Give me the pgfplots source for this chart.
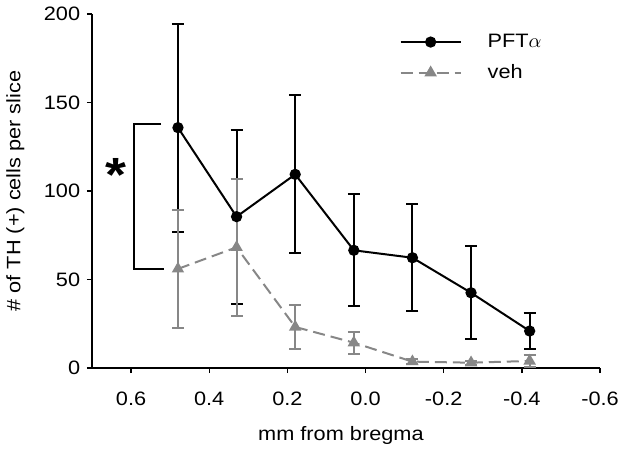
\documentclass[border=0pt]{standalone}
\usepackage{pgfplots}
\pgfplotsset{compat=1.18}
\usepackage{fontspec}
\setmainfont{Liberation Sans}[FakeStretch=1.12]
\definecolor{vehgray}{RGB}{135,135,135}
\begin{document}
\fontsize{9.7}{11.6}\selectfont
\begin{tikzpicture}
\useasboundingbox (-46pt,-41.35pt) rectangle (266pt,184pt);
\begin{axis}[
  scale only axis, width=254pt, height=177pt,
  x dir=reverse, xmin=-0.6, xmax=0.7, ymin=0, ymax=200,
  axis x line*=bottom, axis y line*=left,
  axis line style={line width=0.8pt},
  xtick={0.6,0.4,0.2,0,-0.2,-0.4,-0.6},
  xticklabels={0.6,0.4,0.2,0.0,-0.2,-0.4,-0.6},
  ytick={0,50,100,150,200},
  tick align=outside, major tick length=2.5pt,
  tick style={black, line width=0.7pt},
  /pgf/number format/assume math mode=true,
  tick label style={font=\fontsize{9.7}{11.6}\selectfont},
  xticklabel style={yshift=-6pt},
  xlabel={mm from bregma},
  ylabel={\# of TH (+) cells per slice},
  xlabel style={at={(axis description cs:0.49,-0.19)}, anchor=center},
  ylabel style={at={(axis description cs:-0.151,0.5)}, anchor=center},
  legend style={draw=none, fill=none, at={(axis description cs:0.593,0.877)}, anchor=west,
    row sep=3pt, column sep=11pt, font=\fontsize{9.7}{11.6}\selectfont},
  legend cell align=left,
  legend image code/.code={\draw[mark repeat=2,mark phase=2,#1] plot coordinates {(0pt,0pt) (15pt,0pt) (30pt,0pt)};},
  clip=false,
]
\addplot[black, line width=1pt, mark=*, mark size=2.3pt,
  error bars/.cd, y dir=both, y explicit,
  error bar style={line width=1pt, black},
  error mark options={rotate=90, mark size=3pt, line width=1pt, black}]
  coordinates {
  (0.48,135.8) +- (0,58.7)
  (0.33,85.5) +- (0,49.2)
  (0.18,109.4) +- (0,44.6)
  (0.03,66.5) +- (0,31.6)
  (-0.12,62.3) +- (0,30.3)
  (-0.27,42.5) +- (0,26.2)
  (-0.42,20.9) +- (0,10)
};
\addlegendentry{PFT$\alpha$}
\addplot[vehgray, line width=1pt, dash pattern=on 6pt off 3pt, mark=triangle*, mark size=2.6pt,
  mark options={solid},
  error bars/.cd, y dir=both, y explicit,
  error bar style={line width=1pt, vehgray, solid},
  error mark options={rotate=90, mark size=3pt, line width=1pt, vehgray, solid}]
  coordinates {
  (0.48,56) +- (0,33.2)
  (0.33,68.2) +- (0,38.6)
  (0.18,23.2) +- (0,12.3)
  (0.03,14.3) +- (0,6.3)
  (-0.12,3.6) +- (0,1.5)
  (-0.27,3.0) +- (0,1.2)
  (-0.42,4.0) +- (0,3.3)
};
\addlegendentry{veh}
\draw[line width=1pt] (axis cs:0.523,137.6) -- (axis cs:0.592,137.6) -- (axis cs:0.592,56) -- (axis cs:0.515,56);
\node[font=\fontsize{24}{24}\bfseries, yshift=-5pt] at (axis cs:0.638,114.9) {*};
\end{axis}
\end{tikzpicture}
\end{document}
